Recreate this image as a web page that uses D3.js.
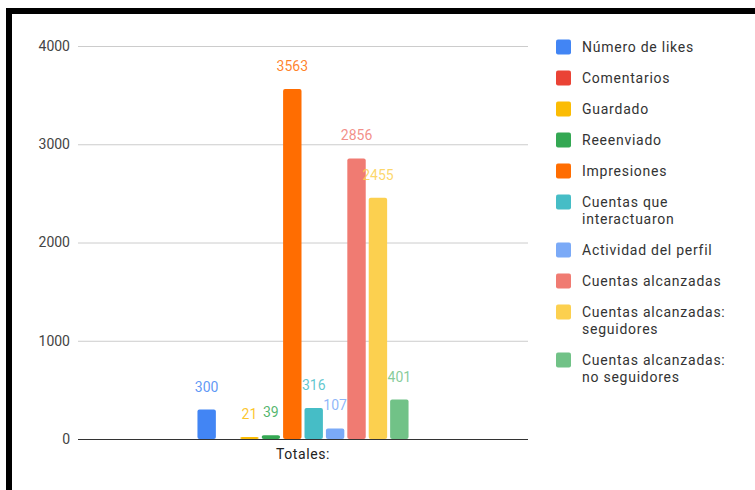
<!DOCTYPE html>
<html>
<head>
<meta charset="utf-8">
<script src="https://cdn.jsdelivr.net/npm/d3@7"></script>
<style>
  html, body { margin: 0; padding: 0; background: #fff; }
  svg { display: block; font-family: Roboto, Arial, sans-serif; }
</style>
</head>
<body>
<svg id="chart" width="755" height="490"></svg>
<script>
// Category on the x axis
const categories = ["Totales:"];

// One series per metric
const seriesNames = [
  "Número de likes",
  "Comentarios",
  "Guardado",
  "Reeenviado",
  "Impresiones",
  "Cuentas que interactuaron",
  "Actividad del perfil",
  "Cuentas alcanzadas",
  "Cuentas alcanzadas: seguidores",
  "Cuentas alcanzadas: no seguidores"
];

// Legend text, wrapped the way it is shown
const legendLines = [
  ["Número de likes"],
  ["Comentarios"],
  ["Guardado"],
  ["Reeenviado"],
  ["Impresiones"],
  ["Cuentas que", "interactuaron"],
  ["Actividad del perfil"],
  ["Cuentas alcanzadas"],
  ["Cuentas alcanzadas:", "seguidores"],
  ["Cuentas alcanzadas:", "no seguidores"]
];

// Values for "Totales:" (Comentarios has no value)
const seriesValues = [300, null, 21, 39, 3563, 316, 107, 2856, 2455, 401];

const seriesColors = [
  "#4285F4", "#EA4335", "#FBBC04", "#34A853", "#FF6D01",
  "#46BDC6", "#7BAAF7", "#F07B72", "#FCD04F", "#71C287"
];

const yTicks = [0, 1000, 2000, 3000, 4000];

const svg = d3.select("#chart");

// Frame
svg.append("rect").attr("x", 6).attr("y", 8).attr("width", 749).attr("height", 6).attr("fill", "#000");
svg.append("rect").attr("x", 6).attr("y", 8).attr("width", 6).attr("height", 482).attr("fill", "#000");

const plot = { left: 78, right: 528, top: 46, bottom: 439 };

const y = d3.scaleLinear().domain([0, 4000]).range([plot.bottom, plot.top]);

const x0 = d3.scaleBand()
  .domain(categories)
  .range([plot.left, plot.right])
  .paddingInner(0)
  .paddingOuter(0.551);

const x1 = d3.scaleBand()
  .domain(seriesNames)
  .range([0, x0.bandwidth()])
  .paddingInner(0.14)
  .paddingOuter(0.07);

// Gridlines and tick labels
const grid = svg.append("g");
grid.selectAll("line")
  .data(yTicks.filter(t => t !== 0))
  .join("line")
  .attr("x1", plot.left).attr("x2", plot.right)
  .attr("y1", d => y(d) + 0.5).attr("y2", d => y(d) + 0.5)
  .attr("stroke", "#cccccc").attr("stroke-width", 1);

grid.selectAll("text")
  .data(yTicks)
  .join("text")
  .attr("x", 70)
  .attr("y", d => y(d))
  .attr("dy", "0.35em")
  .attr("text-anchor", "end")
  .attr("font-size", 14)
  .attr("fill", "#444")
  .text(d => d);

// Bars
const rows = seriesNames.map((name, i) => ({ name, value: seriesValues[i], color: seriesColors[i] }));
const group = svg.append("g").attr("transform", `translate(${x0(categories[0])},0)`);

group.selectAll("rect")
  .data(rows.filter(d => d.value != null))
  .join("rect")
  .attr("x", d => x1(d.name))
  .attr("width", x1.bandwidth())
  .attr("y", d => y(d.value))
  .attr("height", d => y(0) - y(d.value))
  .attr("rx", 2)
  .attr("fill", d => d.color);

// Value labels
group.selectAll("text")
  .data(rows.filter(d => d.value != null))
  .join("text")
  .attr("x", d => x1(d.name) + x1.bandwidth() / 2)
  .attr("y", d => y(d.value) - 18)
  .attr("text-anchor", "middle")
  .attr("font-size", 14)
  .attr("fill", d => d.color)
  .attr("fill-opacity", 0.85)
  .text(d => d.value);

// Baseline
svg.append("line")
  .attr("x1", plot.left).attr("x2", plot.right)
  .attr("y1", y(0) + 0.5).attr("y2", y(0) + 0.5)
  .attr("stroke", "#333").attr("stroke-width", 1);

// Category label
svg.append("text")
  .attr("x", x0(categories[0]) + x0.bandwidth() / 2)
  .attr("y", 459)
  .attr("text-anchor", "middle")
  .attr("font-size", 14)
  .attr("letter-spacing", 0.6)
  .attr("fill", "#222")
  .text(categories[0]);

// Legend
const legend = svg.append("g");
let ly = 47;
legendLines.forEach((lines, i) => {
  const item = legend.append("g").attr("transform", `translate(556,${ly})`);
  item.append("rect")
    .attr("x", 0).attr("y", -7.5)
    .attr("width", 15).attr("height", 15)
    .attr("rx", 2)
    .attr("fill", seriesColors[i]);
  lines.forEach((line, j) => {
    item.append("text")
      .attr("x", 26)
      .attr("y", j * 17)
      .attr("dy", "0.35em")
      .attr("font-size", 14)
      .attr("letter-spacing", 0.75)
      .attr("fill", "#333")
      .text(line);
  });
  ly += 31 + (lines.length - 1) * 17;
});
</script>
</body>
</html>
